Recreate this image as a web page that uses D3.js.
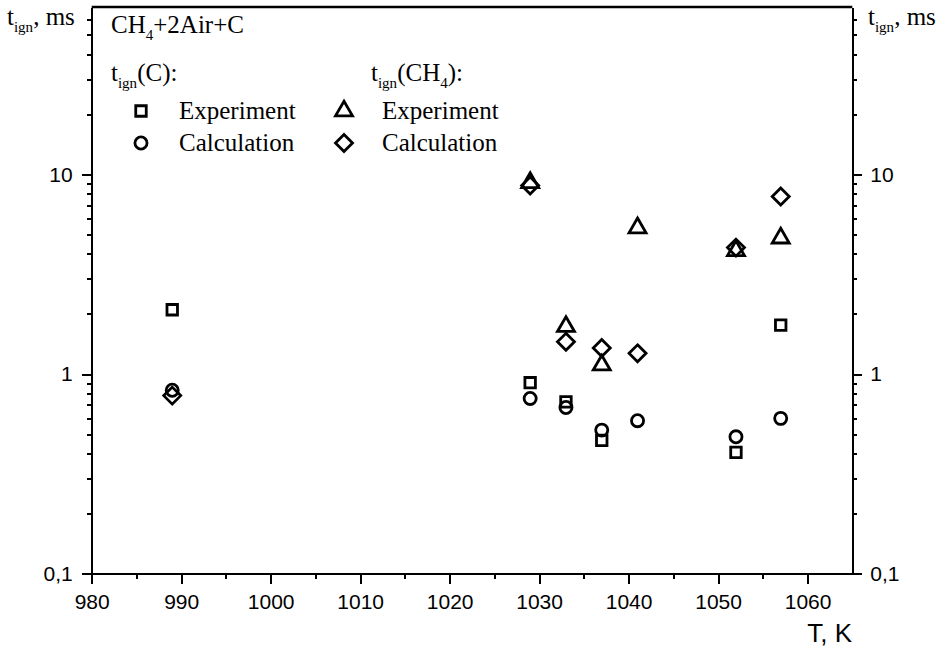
<!DOCTYPE html>
<html>
<meta charset="utf-8">
<style>
  body { margin: 0; background: #fff; }
  svg { display: block; }
  .axis path, .axis line { stroke: #000; stroke-width: 2; fill: none; shape-rendering: crispEdges; }
  .axis text { font-family: "Liberation Sans", Arial, sans-serif; font-size: 21px; fill: #000; }
  .lbl { font-family: "Liberation Serif", "Times New Roman", serif; font-size: 25px; fill: #000; }
  .mark { fill: none; stroke: #000; stroke-width: 2.8; }
</style>
<body>
  <svg width="946" height="649"></svg>
</body>

<script src="https://d3js.org/d3.v7.min.js"></script>

<script>
  // data
  var temps     = [989, 1029, 1033, 1037, 1041, 1052, 1057];
  var expC      = [2.1, 0.905, 0.725, 0.465, null, 0.405, 1.76];
  var calcC     = [0.83, 0.755, 0.68, 0.524, 0.584, 0.485, 0.60];
  var expCH4    = [null, 9.1, 1.73, 1.11, 5.4, 4.15, 4.8];
  var calcCH4   = [0.78, 8.8, 1.45, 1.35, 1.27, 4.3, 7.75];

  var xTicks = [980, 990, 1000, 1010, 1020, 1030, 1040, 1050, 1060];
  var yTicks = [0.1, 1, 10];
  var yTickLabels = ["0,1", "1", "10"];

  var plotLeft = 91.7, plotRight = 852.3, plotTop = 7, plotBottom = 573.7;

  var svg = d3.select("svg");

  var xScale = d3.scaleLinear().domain([980, 1065]).range([plotLeft, plotRight]);
  var yScale = d3.scaleLog().domain([0.1, 69]).range([plotBottom, plotTop]);

  // minor tick values
  var xMinor = xTicks.map(function(d){ return d + 5; }).filter(function(d){ return d < 1065; });
  var yMinor = [];
  [0.1, 1, 10].forEach(function(dec){
    for (var k = 2; k <= 9; k++) {
      var v = dec * k;
      if (v < 69) yMinor.push(v);
    }
  });

  //CREATE AXES
  function createAxes(){
    var fmtY = function(d){ return yTickLabels[yTicks.indexOf(d)]; };

    // minor ticks first
    svg.append("g").attr("class", "axis")
      .attr("transform", "translate(0," + plotBottom + ")")
      .call(d3.axisBottom(xScale).tickValues(xMinor).tickSize(5).tickSizeOuter(0).tickFormat(""));
    svg.append("g").attr("class", "axis")
      .attr("transform", "translate(" + plotLeft + ",0)")
      .call(d3.axisLeft(yScale).tickValues(yMinor).tickSize(5).tickSizeOuter(0).tickFormat(""));
    svg.append("g").attr("class", "axis")
      .attr("transform", "translate(" + plotRight + ",0)")
      .call(d3.axisRight(yScale).tickValues(yMinor).tickSize(5).tickSizeOuter(0).tickFormat(""));

    // major ticks
    var xa = svg.append("g").attr("class", "axis")
      .attr("transform", "translate(0," + plotBottom + ")")
      .call(d3.axisBottom(xScale).tickValues(xTicks).tickSize(10).tickSizeOuter(0).tickPadding(7).tickFormat(d3.format("d")));
    xa.selectAll("text").attr("dy", "0.85em");

    svg.append("g").attr("class", "axis")
      .attr("transform", "translate(" + plotLeft + ",0)")
      .call(d3.axisLeft(yScale).tickValues(yTicks).tickSize(10).tickSizeOuter(0).tickPadding(9).tickFormat(fmtY));
    svg.append("g").attr("class", "axis")
      .attr("transform", "translate(" + plotRight + ",0)")
      .call(d3.axisRight(yScale).tickValues(yTicks).tickSize(10).tickSizeOuter(0).tickPadding(8).tickFormat(fmtY));

    // top border
    svg.append("line").attr("class", "mark")
      .attr("x1", plotLeft).attr("x2", plotRight).attr("y1", plotTop).attr("y2", plotTop)
      .style("stroke-width", 2.5);
  }

  // symbol paths
  function sym(type, size) {
    return d3.symbol().type(type).size(size)();
  }
  var shapes = {
    square:   { path: sym(d3.symbolSquare, 110) },
    circle:   { path: sym(d3.symbolCircle, 115) },
    triangle: { path: sym(d3.symbolTriangle, 125) },
    diamond:  { path: "M0,-8.5L8.5,0L0,8.5L-8.5,0Z" }
  };

  //CREATE POINTS
  function createPoints(values, shape) {
    var pts = temps.map(function(t, i){ return [t, values[i]]; })
      .filter(function(d){ return d[1] != null; });
    svg.append("g").selectAll("path").data(pts).enter()
      .append("path")
      .attr("class", "mark")
      .attr("d", shapes[shape].path)
      .attr("transform", function(d){
        return "translate(" + xScale(d[0]) + "," + yScale(d[1]) + ")";
      });
  }

  // text with subscripts: parts = [[text, sub?], ...]
  function richText(x, y, parts) {
    var t = svg.append("text").attr("class", "lbl").attr("x", x).attr("y", y);
    var shifted = false;
    parts.forEach(function(p){
      var ts = t.append("tspan").text(p[0]);
      if (p[1]) { ts.style("font-size", "15px"); }
      if (p[1] && !shifted) { ts.attr("dy", 7); shifted = true; }
      else if (!p[1] && shifted) { ts.attr("dy", -7); shifted = false; }
    });
    return t;
  }

  function createLabels() {
    richText(7, 25, [["t"], ["ign", 1], [", ms"]]);
    richText(868, 25, [["t"], ["ign", 1], [", ms"]]);
    richText(111, 33, [["CH"], ["4", 1], ["+2Air+C"]]);
    richText(111, 81, [["t"], ["ign", 1], ["(C):"]]);
    richText(371, 81, [["t"], ["ign", 1], ["(CH"], ["4", 1], ["):"]]);

    svg.append("text")
      .attr("x", 852).attr("y", 642).attr("text-anchor", "end")
      .style("font-family", "Liberation Sans, Arial, sans-serif").style("font-size", "26px")
      .text("T, K");

    var legend = [
      { shape: "square",   x: 141, y: 111, label: "Experiment" },
      { shape: "circle",   x: 141, y: 143, label: "Calculation" },
      { shape: "triangle", x: 344, y: 111, label: "Experiment" },
      { shape: "diamond",  x: 344, y: 143, label: "Calculation" }
    ];
    var lg = svg.append("g").selectAll("g").data(legend).enter().append("g");
    lg.append("path").attr("class", "mark")
      .attr("d", function(d){ return shapes[d.shape].path; })
      .attr("transform", function(d){ return "translate(" + d.x + "," + d.y + ")"; });
    lg.append("text").attr("class", "lbl")
      .attr("x", function(d){ return d.x + 38; })
      .attr("y", function(d){ return d.y + 8; })
      .text(function(d){ return d.label; });
  }

  //CALL FUNCTIONS
  createAxes();
  createPoints(expCH4, "triangle");
  createPoints(expC, "square");
  createPoints(calcC, "circle");
  createPoints(calcCH4, "diamond");
  createLabels();
</script>
</html>
